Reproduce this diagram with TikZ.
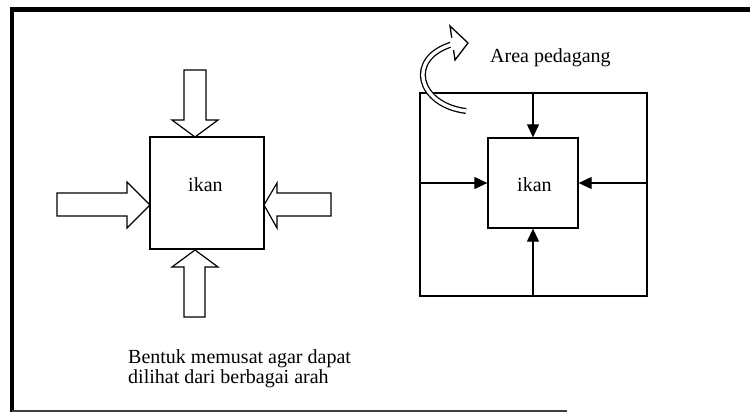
\documentclass[tikz,border=0pt]{standalone}
\usepackage{fontspec}
\setmainfont{Liberation Serif}
\usetikzlibrary{arrows.meta}
\begin{document}
\begin{tikzpicture}[x=1pt,y=-1pt,
  lbl/.style={font=\fontsize{20}{20}\selectfont, inner sep=0pt},
  blockarrow/.style={draw=black, line width=1.2pt, fill=white, line join=miter},
  boxline/.style={draw=black, line width=1.3pt},
  thin/.style={draw=black, line width=1.1pt},
  tip/.style={-{Triangle[length=13pt,width=12pt]}, line width=1.1pt}]
\useasboundingbox (0,0) rectangle (750,413);
% frame
\draw[line width=5pt] (10,9) -- (750,9);
\draw[line width=4pt] (12,7) -- (12,412);
\draw[line width=1.5pt, black!75] (12,411) -- (567,411);

% ---- left diagram ----
\node[boxline, minimum width=114pt, minimum height=112pt, inner sep=0pt] (L) at (207,193) {};
\node[lbl, anchor=base west] (Lt) at (188,191) {ikan};
% top arrow
\draw[blockarrow] (184,70) -- (206,70) -- (206,120) -- (218,120) -- (195,137) -- (172,120) -- (184,120) -- cycle;
% bottom arrow
\draw[blockarrow] (184,317) -- (205,317) -- (205,267) -- (218,267) -- (195,250) -- (172,267) -- (184,267) -- cycle;
% left arrow
\draw[blockarrow] (57,193) -- (127,193) -- (127,182) -- (150,205) -- (127,228) -- (127,216) -- (57,216) -- cycle;
% right arrow
\draw[blockarrow] (331,193) -- (277,193) -- (277,183) -- (264,205) -- (277,228) -- (277,216) -- (331,216) -- cycle;
\node[lbl, anchor=base west, align=left] (cap1) at (128,363) {Bentuk memusat agar dapat};
\node[lbl, anchor=base west, align=left] (cap2) at (128,383) {dilihat dari berbagai arah};

% ---- right diagram ----
\node[thin, minimum width=227pt, minimum height=203pt, inner sep=0pt] (O) at (533.5,194.5) {};
\node[boxline, minimum width=90pt, minimum height=90pt, inner sep=0pt] (R) at (533,183) {};
\node[lbl, anchor=base west] (Rt) at (517,191) {ikan};
\coordinate (ot) at (533,93);
\coordinate (ob) at (533,296);
\coordinate (ol) at (420,183);
\coordinate (or) at (647,183);
\draw[tip] (ot) -- (R.north);
\draw[tip] (ob) -- (R.south);
\draw[tip] (ol) -- (R.west);
\draw[tip] (or) -- (R.east);

% curved hollow arrow
\draw[line width=1.3pt, double=white, double distance=3.4pt]
  (466,111) .. controls (418,105) and (405,58) .. (453,44);
\draw[blockarrow, line width=1.3pt] (450,26) -- (468,43) -- (455,60) -- cycle;
\draw[white, line width=3.4pt] (451.5,38) -- (452.8,50);
\node[lbl, anchor=base west] (area) at (490,62) {Area pedagang};
\end{tikzpicture}
\end{document}
